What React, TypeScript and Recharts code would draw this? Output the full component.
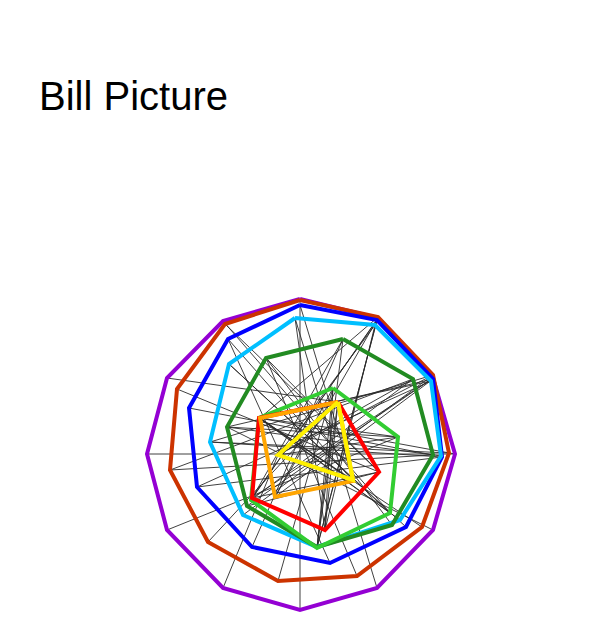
import { ScatterChart, Scatter, XAxis, YAxis } from 'recharts';

type Pt = { x: number; y: number };

// vertices, origin at the hub, y up
const purple: Pt[] = [
  { x: 0, y: 155 }, { x: 78, y: 136 }, { x: 133, y: 76 }, { x: 155, y: 0 },
  { x: 133, y: -76 }, { x: 77, y: -134 }, { x: 0, y: -156 }, { x: -77, y: -134 },
  { x: -133, y: -76 }, { x: -153, y: 0 }, { x: -133, y: 76 }, { x: -77, y: 133 },
];
const rust: Pt[] = [
  { x: 0, y: 154 }, { x: 78, y: 137 }, { x: 133, y: 79 }, { x: 149, y: 1 },
  { x: 122, y: -73 }, { x: 57, y: -122 }, { x: -22, y: -127 }, { x: -92, y: -88 },
  { x: -130, y: -16 }, { x: -123, y: 65 }, { x: -75, y: 130 },
];
const blue: Pt[] = [
  { x: 0, y: 149 }, { x: 77, y: 134 }, { x: 133, y: 75 }, { x: 142, y: -3 },
  { x: 106, y: -73 }, { x: 30, y: -109 }, { x: -48, y: -93 }, { x: -103, y: -33 },
  { x: -111, y: 46 }, { x: -72, y: 115 },
];
const sky: Pt[] = [
  { x: -5, y: 136 }, { x: 75, y: 129 }, { x: 131, y: 73 }, { x: 141, y: -2 },
  { x: 100, y: -66 }, { x: 17, y: -93 }, { x: -57, y: -61 }, { x: -90, y: 12 },
  { x: -71, y: 90 },
];
const forest: Pt[] = [
  { x: 43, y: 115 }, { x: 113, y: 75 }, { x: 133, y: -1 }, { x: 92, y: -71 },
  { x: 17, y: -93 }, { x: -53, y: -52 }, { x: -73, y: 27 }, { x: -34, y: 96 },
];
const lime: Pt[] = [
  { x: 33, y: 66 }, { x: 98, y: 17 }, { x: 90, y: -59 }, { x: 17, y: -94 },
  { x: -49, y: -46 }, { x: -41, y: 36 },
];
const red: Pt[] = [
  { x: 38, y: 52 }, { x: 79, y: -18 }, { x: 25, y: -76 }, { x: -48, y: -44 }, { x: -41, y: 36 },
];
const orange: Pt[] = [
  { x: 38, y: 52 }, { x: 53, y: -27 }, { x: -25, y: -43 }, { x: -40, y: 36 },
];
const yellow: Pt[] = [
  { x: 38, y: 52 }, { x: 53, y: -26 }, { x: -22, y: -1 },
];

const shapes: Record<string, Pt[]> = { P: purple, O: rust, B: blue, L: sky, D: forest, G: lime, R: red, A: orange, Y: yellow };
const order = ['P', 'O', 'B', 'L', 'D', 'G', 'R', 'A', 'Y'];

// thin threads between vertices: [shape, vertex, shape, vertex]
const threads: [string, number, string, number][] = [
  ['P', 0, 'P', 6], ['P', 9, 'P', 3],
  ['P', 1, 'G', 4], ['P', 1, 'A', 2], ['O', 1, 'L', 5], ['B', 1, 'R', 3], ['L', 1, 'Y', 2], ['B', 1, 'G', 3],
  ['O', 1, 'A', 3], ['L', 1, 'R', 2],
  ['P', 2, 'D', 5], ['O', 2, 'L', 7], ['B', 2, 'D', 6], ['L', 2, 'A', 3], ['D', 1, 'G', 4], ['O', 2, 'Y', 2],
  ['P', 2, 'R', 3], ['B', 2, 'A', 2],
  ['O', 3, 'L', 7], ['B', 3, 'B', 7], ['L', 3, 'D', 6], ['D', 2, 'O', 8], ['P', 3, 'G', 5],
  ['P', 4, 'D', 6], ['O', 4, 'R', 4], ['B', 4, 'L', 8], ['L', 4, 'A', 3],
  ['P', 5, 'L', 0], ['O', 5, 'D', 7], ['B', 5, 'B', 9], ['L', 5, 'R', 0],
  ['O', 6, 'G', 0], ['B', 6, 'D', 0], ['L', 6, 'O', 2], ['D', 5, 'R', 1],
  ['P', 7, 'Y', 2], ['O', 7, 'R', 0], ['B', 7, 'L', 2], ['D', 4, 'D', 0],
  ['P', 8, 'G', 1], ['O', 8, 'D', 1], ['L', 7, 'B', 3], ['D', 6, 'G', 1],
  ['P', 10, 'R', 0], ['O', 9, 'R', 1], ['B', 8, 'D', 2], ['L', 8, 'G', 2],
  ['P', 11, 'G', 2], ['O', 10, 'R', 1], ['B', 9, 'A', 1], ['D', 7, 'R', 1],
  ['L', 0, 'R', 2], ['D', 0, 'G', 4], ['B', 0, 'Y', 1], ['D', 3, 'D', 7],
  ['G', 2, 'G', 5], ['G', 3, 'G', 0], ['R', 1, 'R', 3], ['A', 1, 'A', 3],
  ['G', 1, 'Y', 2], ['R', 2, 'Y', 0], ['A', 2, 'G', 0], ['Y', 1, 'R', 4],
  ['G', 0, 'R', 2], ['G', 5, 'G', 1], ['Y', 2, 'D', 1],
];

const colors: Record<string, string> = {
  P: '#9400d3', O: '#cc3300', B: '#0000ff', L: '#00bfff', D: '#228b22',
  G: '#32cd32', R: '#ff0000', A: '#ffa500', Y: '#fff000',
};

const Nothing = () => <g />;

export default function App() {
  return (
    <div style={{ position: 'absolute', left: 0, top: 0, width: 595, height: 619, background: '#fff' }}>
      <div
        style={{
          position: 'absolute',
          left: 39,
          top: 74,
          fontFamily: '"Liberation Sans", Arial, sans-serif',
          fontSize: 40,
          color: '#000',
        }}
      >
        Bill Picture
      </div>
      <div style={{ position: 'absolute', left: 0, top: 0 }}>
        <ScatterChart width={595} height={619} margin={{ top: 0, right: 0, bottom: 0, left: 0 }}>
          <XAxis type="number" dataKey="x" domain={[-300, 295]} allowDataOverflow hide />
          <YAxis type="number" dataKey="y" domain={[-165, 454]} allowDataOverflow hide />
          {threads.map(([a, i, b, j], k) => (
            <Scatter
              key={`t${k}`}
              data={[shapes[a][i], shapes[b][j]]}
              line={{ stroke: '#2a2a2a', strokeWidth: 0.9 }}
              shape={Nothing}
              isAnimationActive={false}
            />
          ))}
          {order.map((key) => (
            <Scatter
              key={key}
              data={[...shapes[key], shapes[key][0]]}
              line={{ stroke: colors[key], strokeWidth: 4 }}
              shape={Nothing}
              isAnimationActive={false}
            />
          ))}
        </ScatterChart>
      </div>
    </div>
  );
}
